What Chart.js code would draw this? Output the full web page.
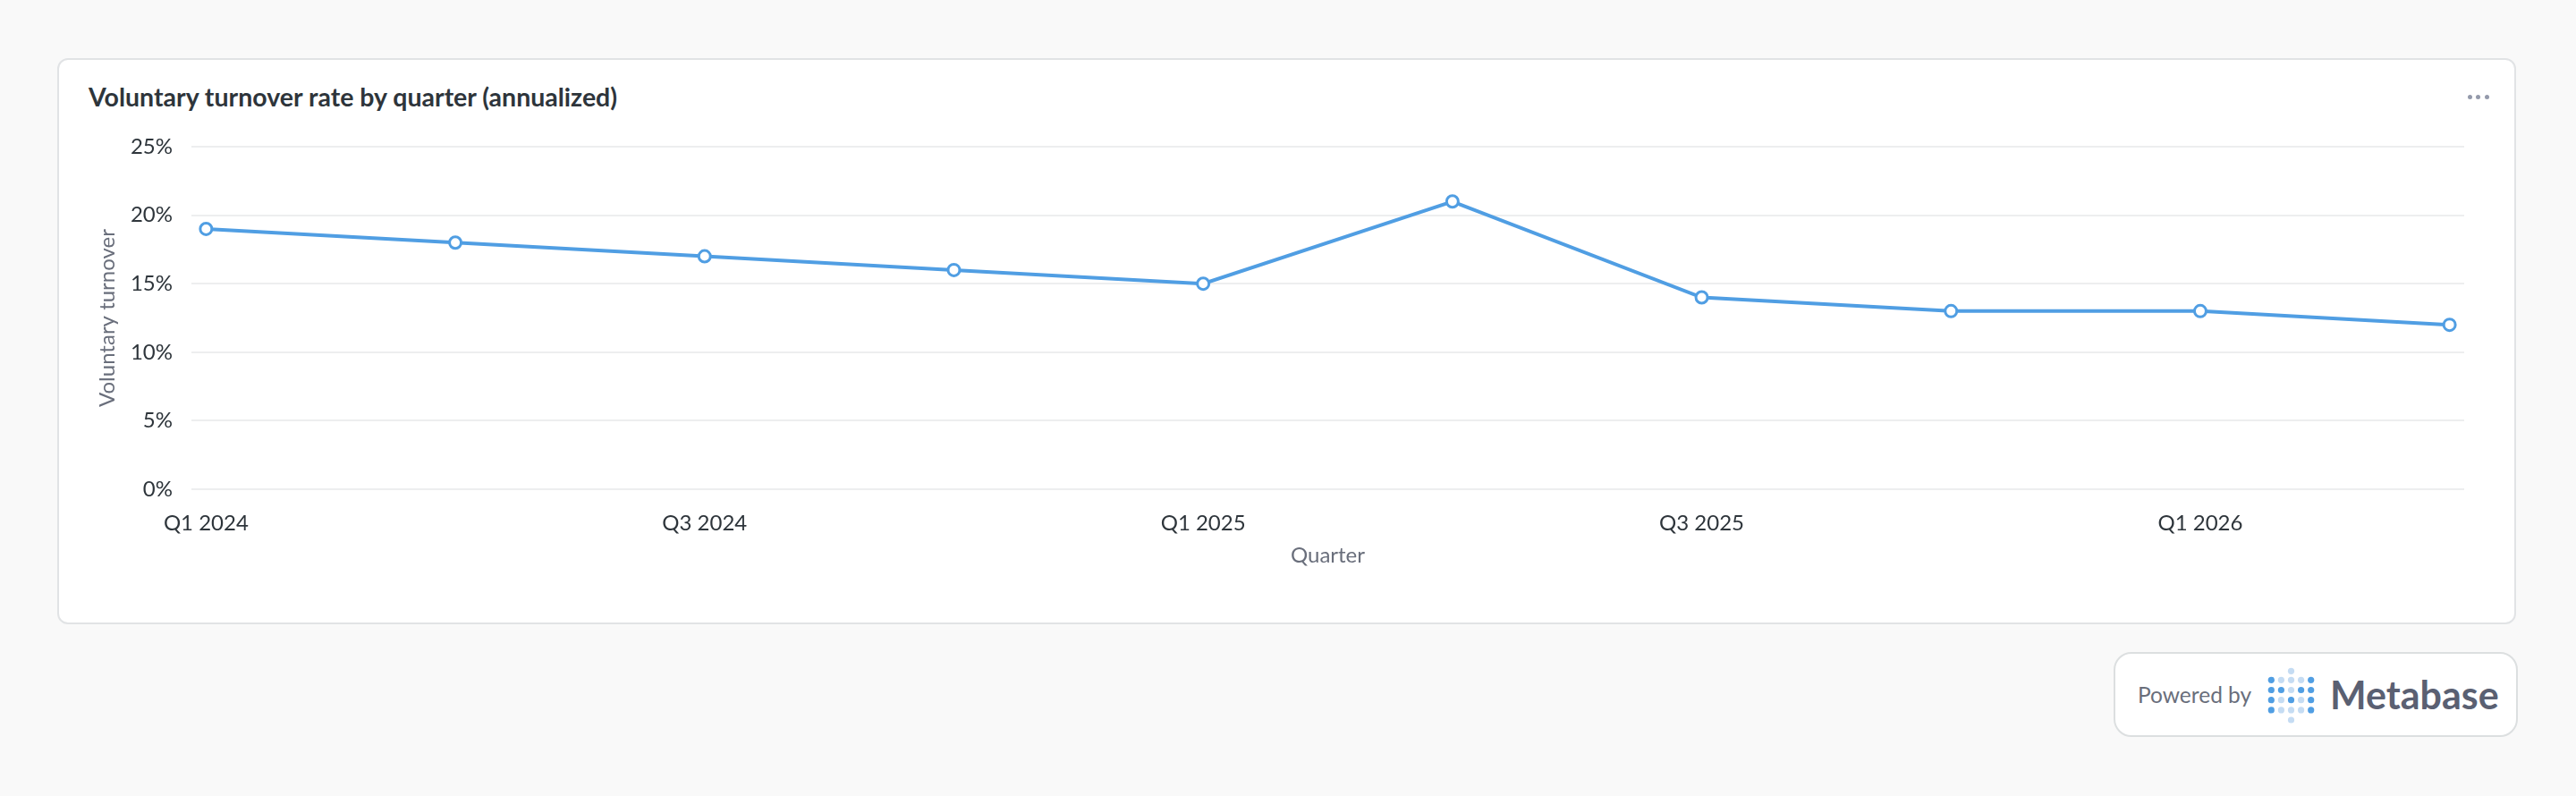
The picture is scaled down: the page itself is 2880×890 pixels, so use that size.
<!DOCTYPE html>
<html>
<head>
<meta charset="utf-8">
<script src="https://cdn.jsdelivr.net/npm/chart.js@4.4.1/dist/chart.umd.min.js"></script>
<style>
  html, body { margin: 0; padding: 0; }
  body { width: 2880px; height: 890px; background: #F9F9F9; position: relative; overflow: hidden; font-family: Lato, "Noto Sans", sans-serif; }
  #card { position: absolute; left: 64px; top: 65px; width: 2745px; height: 629px; background: #fff; border: 2px solid #E1E3E5; border-radius: 12px; }
  #title { position: absolute; left: 99px; top: 90px; font-size: 28.5px; font-weight: 700; color: #2E353B; line-height: 36px; white-space: nowrap; }
  #menu { position: absolute; left: 2759px; top: 106px; width: 26px; height: 6px; }
  #menu span { position: absolute; top: 0; width: 5px; height: 5px; border-radius: 50%; background: #949AAB; }
  #wrap { position: absolute; left: 64px; top: 140px; width: 2749px; height: 502px; }
  #badge { position: absolute; left: 2363px; top: 729px; width: 448px; height: 91px; background: #fff; border: 2px solid #DCDFE0; border-radius: 20px; }
  #powered { position: absolute; left: 2390px; top: 761.5px; font-size: 24.5px; color: #696E7B; line-height: 30px; white-space: nowrap; }
  #logo { position: absolute; left: 2530px; top: 742px; }
  #metabase { position: absolute; left: 2605px; top: 748.5px; font-size: 43px; font-weight: 700; color: #5A6072; line-height: 56px; white-space: nowrap; }
</style>
</head>
<body>
<div id="card"></div>
<div id="title">Voluntary turnover rate by quarter (annualized)</div>
<div id="menu"><span style="left:0"></span><span style="left:9.3px"></span><span style="left:18.6px"></span></div>
<div id="wrap"><canvas id="c" width="2749" height="502"></canvas></div>
<div id="badge"></div>
<div id="powered">Powered by</div>
<svg id="logo" width="64" height="72" viewBox="0 0 64 72">
  <g id="dots"></g>
</svg>
<div id="metabase">Metabase</div>
<script>
// ---- data ----
const quarters = ["Q1 2024","Q2 2024","Q3 2024","Q4 2024","Q1 2025","Q2 2025","Q3 2025","Q4 2025","Q1 2026","Q2 2026"];
const turnover = [19, 18, 17, 16, 15, 21, 14, 13, 13, 12];
const xTickIndexes = [0, 2, 4, 6, 8];
const yTicks = [0, 5, 10, 15, 20, 25];

// ---- logo dots (decoration) ----
(function(){
  const dark = "#509EE3", light = "#C5DCF3";
  const pattern = [
    [1,0,0,0,1],
    [1,1,0,1,1],
    [1,0,1,0,1],
    [1,0,0,0,1]
  ];
  const g = document.getElementById("dots");
  const ns = "http://www.w3.org/2000/svg";
  function dot(cx, cy, col){ const c = document.createElementNS(ns, "circle"); c.setAttribute("cx", cx); c.setAttribute("cy", cy); c.setAttribute("r", 3.6); c.setAttribute("fill", col); g.appendChild(c); }
  const x0 = 9.3, dx = 11.1, y0 = 18.3, dy = 11.2;
  dot(x0 + 2*dx, 8.3, light);
  for (let r = 0; r < 4; r++) for (let k = 0; k < 5; k++) dot(x0 + k*dx, y0 + r*dy, pattern[r][k] ? dark : light);
  dot(x0 + 2*dx, 63, light);
})();

// ---- chart ----
const blue = "#509EE3";
new Chart(document.getElementById("c"), {
  type: "line",
  data: {
    datasets: [{
      data: turnover.map((v, i) => ({ x: i, y: v })),
      borderColor: blue,
      borderWidth: 4,
      tension: 0,
      pointRadius: 6.5,
      pointBorderWidth: 3,
      pointBackgroundColor: "#ffffff",
      pointBorderColor: blue,
      clip: false
    }]
  },
  options: {
    responsive: false,
    animation: false,
    events: [],
    layout: { padding: { left: 0, right: 58, top: 24, bottom: 0 } },
    plugins: { legend: { display: false }, tooltip: { enabled: false } },
    scales: {
      x: {
        type: "linear",
        min: -0.0587,
        max: quarters.length - 1 + 0.0587,
        afterBuildTicks: s => { s.ticks = xTickIndexes.map(v => ({ value: v })); },
        afterFit: s => { s.height = 95; },
        grid: { display: false, drawTicks: false },
        border: { display: false },
        ticks: {
          padding: 24,
          maxRotation: 0,
          autoSkip: false,
          color: "#2E353B",
          font: { family: "Lato", size: 24 },
          callback: v => quarters[v] ?? ""
        },
        title: {
          display: true,
          text: "Quarter",
          color: "#696E7B",
          font: { family: "Lato", size: 24 },
          padding: { top: 0, bottom: 6 }
        }
      },
      y: {
        min: 0,
        max: 25,
        afterBuildTicks: s => { s.ticks = yTicks.map(v => ({ value: v })); },
        afterFit: s => { s.width = 150; },
        grid: { color: "#EDEEEF", lineWidth: 2, drawTicks: true, tickLength: 21, tickColor: "rgba(0,0,0,0)" },
        border: { display: false },
        ticks: {
          padding: 0,
          color: "#2E353B",
          font: { family: "Lato", size: 24 },
          callback: v => v + "%"
        },
        title: {
          display: true,
          text: "Voluntary turnover",
          color: "#696E7B",
          font: { family: "Lato", size: 24 },
          padding: { top: 42, bottom: 0 }
        }
      }
    }
  }
});
</script>
</body>
</html>
